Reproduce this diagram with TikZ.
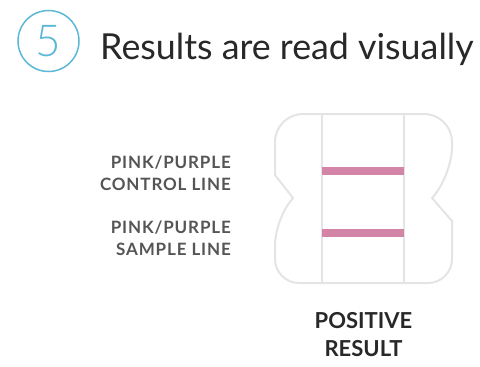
\documentclass[tikz,border=0pt]{standalone}
\usepackage{fontspec}
\setmainfont{Lato}
\newfontfamily\lightfont{Lato Light}
\newfontfamily\spacedfont{Lato}[LetterSpace=5]
\definecolor{circblue}{RGB}{92,184,214}
\definecolor{strip}{RGB}{228,228,228}
\definecolor{pinkline}{RGB}{212,132,166}
\definecolor{labelgray}{RGB}{85,85,85}
\definecolor{titlegray}{RGB}{40,40,40}
\tikzset{
  lbl/.style={align=right, anchor=north east, inner sep=0pt, text=labelgray,
    font=\spacedfont\fontsize{17}{22}\selectfont\bfseries},
  res/.style={align=center, anchor=north, inner sep=0pt, text=titlegray,
    font=\fontsize{22}{28}\selectfont\bfseries},
  stripline/.style={draw=strip, line width=2pt},
  testline/.style={draw=pinkline, line width=8pt}
}
\begin{document}
\begin{tikzpicture}[x=1pt,y=-1pt]
\useasboundingbox (0,0) rectangle (480,367);
% step number
\node (num) [circle, draw=circblue, line width=1.5pt, minimum size=61pt, inner sep=0pt,
  text=circblue, font=\lightfont\fontsize{44}{44}\selectfont] at (48.5,41) {5};
% title
\node (title) [anchor=base west, inner sep=0pt, text=titlegray,
  font=\fontsize{35.8}{36}\selectfont] at (100,59) {Results are read visually};
% strip outline
\draw[stripline, rounded corners=28pt] (275,175) -- (275,114) -- (452,114) -- (452,175)
  [sharp corners] -- (432,198) -- (452,221)
  [rounded corners=24pt] -- (452,283) -- (275,283) -- (275,221)
  [sharp corners] -- (293,198) -- cycle;
\coordinate (lt) at (322,114); \coordinate (lb) at (322,283);
\coordinate (rt) at (404,114); \coordinate (rb) at (404,283);
\draw[stripline] (lt) -- (lb);
\draw[stripline] (rt) -- (rb);
\coordinate (c1) at (322,171); \coordinate (c2) at (404,171);
\coordinate (s1) at (322,233); \coordinate (s2) at (404,233);
\draw[testline] (c1) -- (c2);
\draw[testline] (s1) -- (s2);
% labels
\node (ctl) [lbl] at (231,156) {PINK/PURPLE\\CONTROL LINE};
\node (smp) [lbl] at (231,221) {PINK/PURPLE\\SAMPLE LINE};
\node (pos) [res] at (363.5,312) {POSITIVE\\RESULT};
\end{tikzpicture}
\end{document}
